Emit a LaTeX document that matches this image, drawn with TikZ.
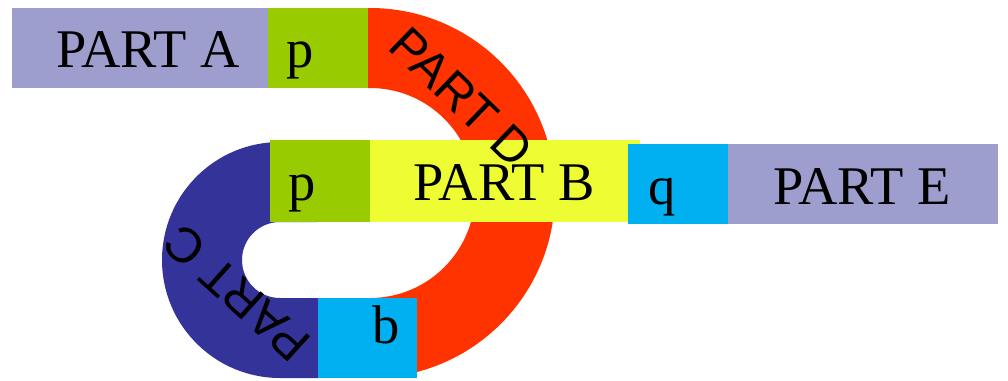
\documentclass[tikz,border=0pt]{standalone}
\usepackage{fontspec}
\setmainfont{Liberation Serif}
\setsansfont{Liberation Sans}
\usepackage{xcolor}
\definecolor{lavender}{RGB}{158,158,206}
\definecolor{leaf}{RGB}{153,204,0}
\definecolor{flame}{RGB}{255,51,0}
\definecolor{lemon}{RGB}{238,252,52}
\definecolor{sky}{RGB}{0,176,240}
\definecolor{indigo}{RGB}{51,51,153}

\begin{document}
\begin{tikzpicture}[x=0.02cm,y=0.02cm]

\tikzset{txt/.style = {inner sep=0pt, anchor=base, font=\fontsize{31}{36}\selectfont}}
\tikzset{bendtxt/.style = {inner sep=0pt, font=\sffamily\fontsize{28}{34}\selectfont}}
\useasboundingbox (0,0) rectangle (1008,380);

%bends
\fill[flame] (368,372) -- (370,372) arc[start angle=90, end angle=-90, radius=185] -- (370,82)
  arc[start angle=-90, end angle=90, radius=105] -- (368,292) -- cycle;
\fill[indigo] (318,238) -- (280,238) arc[start angle=90, end angle=270, radius=118] -- (318,2)
  -- (318,82) -- (280,82) arc[start angle=270, end angle=90, radius=38] -- (318,158) -- cycle;

%boxes
\fill[lavender] (12,292) rectangle (268,372);
\fill[leaf] (268,292) rectangle (368,372);
\fill[sky] (318,2) rectangle (417,82);
\fill[leaf] (270,158) rectangle (370,240);
\fill[lemon] (370,158) rectangle (640,240);
\fill[sky] (628,156) rectangle (728,236);
\fill[lavender] (728,156) rectangle (998,236);

%labels
\node[txt] (a) at (148,313) {PART A};
\node[txt] (p1) at (300,313) {p};
\node[txt] (p2) at (302,180) {p};
\node[txt] (b) at (504,180) {PART B};
\node[txt] (q) at (662,176) {q};
\node[txt] (e) at (862,176) {PART E};
\node[txt] (bb) at (386,37) {b};
\node[bendtxt, rotate=-44] (d) at (462,283) {PART D};
\node[bendtxt, rotate=138] (c) at (237,87) {PART C};
\end{tikzpicture}
\end{document}
